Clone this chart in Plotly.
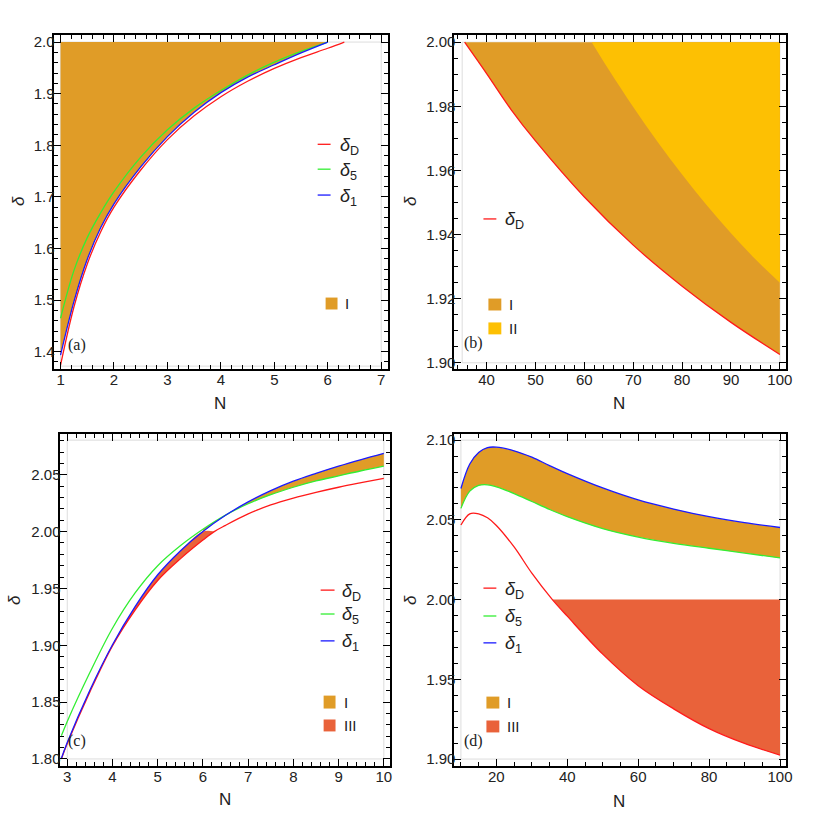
import plotly.graph_objects as go

# ---------------- data ----------------
DELTA_MAX = 2.0

# Panel (a)
a_N = [1, 1.25, 1.5, 1.75, 2, 2.5, 3, 3.5, 4, 4.5, 5, 5.5, 6]
a_blue_d = [1.3934, 1.497, 1.579, 1.640, 1.6865, 1.758, 1.8167, 1.864, 1.902, 1.932, 1.956, 1.979, 2.0]
a_green_d = [1.4648, 1.557, 1.621, 1.669, 1.710, 1.777, 1.830, 1.872, 1.906, 1.936, 1.961, 1.982, 2.0]
a_red_N = [1, 1.25, 1.5, 1.75, 2, 2.5, 3, 3.5, 4, 4.5, 5, 5.5, 6, 6.31]
a_red_d = [1.3739, 1.4865, 1.570, 1.632, 1.680, 1.752, 1.811, 1.857, 1.894, 1.924, 1.949, 1.970, 1.988, 2.0]

# Panel (b)
b_red_N = [35.5, 40, 45, 50, 60, 70, 80, 90, 100]
b_red_d = [2.0, 1.9902, 1.9790, 1.9692, 1.9517, 1.9367, 1.9239, 1.9126, 1.9026]
b_II_N = [61.5, 65, 70, 75, 80, 85, 90, 95, 100]
b_II_d = [2.0, 1.9914, 1.9798, 1.9689, 1.9587, 1.9492, 1.9404, 1.9323, 1.9250]

# Panel (c)
c_N = [2.87, 3, 3.5, 4, 4.5, 5, 5.5, 6, 6.5, 7, 7.5, 8, 8.5, 9, 9.5, 10]
c_blue_d = [1.8005, 1.8145, 1.8605, 1.9005, 1.934, 1.962, 1.983, 2.0, 2.0143, 2.0261, 2.036,
            2.0443, 2.0512, 2.0576, 2.0634, 2.0688]
c_green_d = [1.8204, 1.833, 1.876, 1.915, 1.946, 1.970, 1.9875, 2.002, 2.0145, 2.0245, 2.0325,
             2.039, 2.0445, 2.049, 2.0535, 2.0576]
c_red_N = [2.87, 3, 3.5, 4, 4.5, 5, 5.5, 6, 6.25, 6.5, 7, 7.5, 8, 8.5, 9, 9.5, 10]
c_red_d = [1.800, 1.8135, 1.859, 1.8995, 1.931, 1.957, 1.976, 1.9925, 2.0, 2.0055, 2.0155, 2.0235,
           2.0295, 2.0345, 2.039, 2.043, 2.0468]

# Panel (d)
d_N = [10, 12.5, 15, 17.5, 20, 25, 30, 35, 40, 50, 60, 70, 80, 90, 100]
d_blue_d = [2.0697, 2.0850, 2.0922, 2.0953, 2.0956, 2.0933, 2.0893, 2.0840, 2.0790, 2.0700, 2.0625,
            2.0568, 2.0520, 2.0482, 2.0452]
d_green_d = [2.0572, 2.0680, 2.0716, 2.0720, 2.0707, 2.0665, 2.0615, 2.0565, 2.0520, 2.0445, 2.0392,
             2.0353, 2.0322, 2.0292, 2.0261]
d_red_N = [10, 12.5, 15, 17.5, 20, 25, 30, 35.8, 40, 50, 60, 70, 80, 90, 100]
d_red_d = [2.0468, 2.0538, 2.0538, 2.0513, 2.0465, 2.0330, 2.0166, 2.0, 1.9896, 1.9658, 1.9460,
           1.9315, 1.9191, 1.9098, 1.9025]

panel_labels = ["(a)", "(b)", "(c)", "(d)"]
x_title = "N"
y_title = "<i>δ</i>"
line_names = ["<i>δ</i><sub>D</sub>", "<i>δ</i><sub>5</sub>", "<i>δ</i><sub>1</sub>"]
region_names = ["I", "II", "III"]

# ---------------- styles ----------------
RED, GREEN, BLUE = "#FF1A1A", "#33EE33", "#1A1AFF"
C_I, C_II, C_III = "#E09C27", "#FDC003", "#E9623A"
W = 822
SMOOTH = 1.0

fig = go.Figure()


def ax(i):
    return ("x" if i == 1 else f"x{i}"), ("y" if i == 1 else f"y{i}")


def sub(N, d, lo, hi):
    pts = [(n, v) for n, v in zip(N, d) if lo <= n <= hi]
    return [p[0] for p in pts], [p[1] for p in pts]


def curve(N, d, color, i):
    xa, ya = ax(i)
    fig.add_trace(go.Scatter(x=N, y=d, mode="lines", xaxis=xa, yaxis=ya,
                             line=dict(color=color, width=1.3, shape="spline", smoothing=SMOOTH),
                             hoverinfo="skip", showlegend=False))


def band(Nu, du, Nl, dl, color, i):
    xa, ya = ax(i)
    fig.add_trace(go.Scatter(x=Nu, y=du, mode="lines", xaxis=xa, yaxis=ya,
                             line=dict(width=0, color=color, shape="spline", smoothing=SMOOTH),
                             hoverinfo="skip", showlegend=False))
    fig.add_trace(go.Scatter(x=Nl, y=dl, mode="lines", xaxis=xa, yaxis=ya, fill="tonexty",
                             fillcolor=color,
                             line=dict(width=0, color=color, shape="spline", smoothing=SMOOTH),
                             hoverinfo="skip", showlegend=False))


# ---- panel (a)
band([a_N[0], a_N[-1]], [DELTA_MAX, DELTA_MAX], a_N, a_blue_d, C_I, 1)
curve(a_red_N, a_red_d, RED, 1)
curve(a_N, a_green_d, GREEN, 1)
curve(a_N, a_blue_d, BLUE, 1)

# ---- panel (b)
band([b_red_N[0], b_red_N[-1]], [DELTA_MAX, DELTA_MAX], b_red_N, b_red_d, C_I, 2)
band([b_II_N[0], b_II_N[-1]], [DELTA_MAX, DELTA_MAX], b_II_N, b_II_d, C_II, 2)
curve(b_red_N, b_red_d, RED, 2)

# ---- panel (c)
uN, ud = sub(c_N, c_blue_d, 4.0, 6.0)
rN, rd = sub(c_red_N, c_red_d, 4.0, 6.25)
band(uN + [rN[-1]], ud + [DELTA_MAX], rN, rd, C_III, 3)
uN, ud = sub(c_N, c_blue_d, 6.0, 10)
gN, gd = sub(c_N, c_green_d, 6.0, 10)
band(uN, ud, gN, gd, C_I, 3)
curve(c_red_N, c_red_d, RED, 3)
curve(c_N, c_green_d, GREEN, 3)
curve(c_N, c_blue_d, BLUE, 3)

# ---- panel (d)
band(d_N, d_blue_d, d_N, d_green_d, C_I, 4)
rN, rd = sub(d_red_N, d_red_d, 35.8, 100)
band([rN[0], rN[-1]], [DELTA_MAX, DELTA_MAX], rN, rd, C_III, 4)
curve(d_red_N, d_red_d, RED, 4)
curve(d_N, d_green_d, GREEN, 4)
curve(d_N, d_blue_d, BLUE, 4)

# ---------------- axes ----------------
TF = dict(family="Liberation Sans", size=15, color="#222")


def axis(domain, rng, dtick, mdtick, anchor, fmt=None, standoff=-4):
    d = dict(domain=domain, range=rng, dtick=dtick, tick0=0, anchor=anchor,
             showline=True, linecolor="black", linewidth=2, mirror="allticks",
             ticks="inside", ticklen=7, tickwidth=1, tickcolor="black",
             minor=dict(dtick=mdtick, tick0=0, ticks="inside", ticklen=4, tickwidth=1, tickcolor="black"),
             showgrid=False, zeroline=False, tickfont=TF, ticklabelstandoff=standoff)
    if fmt:
        d["tickformat"] = fmt
    return d


def px(x):
    return x / W


def py(y):
    return 1 - y / W


top_dom = [py(369), py(33)]
bot_dom = [py(767.5), py(433.7)]

fig.update_layout(
    xaxis=axis([px(54), px(391)], [0.87, 7.13], 1, 0.2, "y"),
    yaxis=axis(top_dom, [1.366, 2.014], 0.1, 0.02, "x", ".1f", -6),
    xaxis2=axis([px(457.7), px(792)], [33.4, 101.3], 10, 2, "y2"),
    yaxis2=axis(top_dom, [1.898, 2.0023], 0.02, 0.005, "x2", ".2f", -6),
    xaxis3=axis([px(60), px(393.3)], [2.83, 10.146], 1, 0.2, "y3"),
    yaxis3=axis(bot_dom, [1.794, 2.0862], 0.05, 0.01, "x3", ".2f", -6),
    xaxis4=axis([px(457.7), px(792)], [8.15, 101.75], 20, 5, "y4"),
    yaxis4=axis(bot_dom, [1.8958, 2.1041], 0.05, 0.01, "x4", ".2f", -6),
)

shapes = []
annotations = []


def text(t, x, y, size, family="Liberation Sans", xanchor="center", angle=0):
    annotations.append(dict(text=t, x=px(x), y=py(y), xref="paper", yref="paper",
                            xanchor=xanchor, yanchor="middle", showarrow=False, textangle=angle,
                            font=dict(family=family, size=size, color="#222")))


# inner light-gray plot-range boxes
for i, (x0, x1, y0, y1) in enumerate([(1, 7, 1.372, 2.0), (35, 100, 1.90, 2.0),
                                      (3, 10, 1.80, 2.0804), (10, 100, 1.90, 2.10)], start=1):
    xa, ya = ax(i)
    shapes.append(dict(type="rect", xref=xa, yref=ya, x0=x0, x1=x1, y0=y0, y1=y1,
                       line=dict(color="#DDDDDD", width=1), layer="below"))

# axis titles
for (xx, yy) in [(222, 403), (624, 403), (227, 801), (624, 803)]:
    text(x_title, xx, yy, 17)
for (xx, yy) in [(18, 200), (413, 200), (14, 601), (413, 601)]:
    text(y_title, xx, yy, 17, angle=-90)

# panel labels
for lab, (xx, yy) in zip(panel_labels, [(78, 345), (477, 343), (78, 743), (477, 743)]):
    text(lab, xx, yy, 16, family="Liberation Serif")


def leg_line(x0, x1, y, color, t, tx):
    shapes.append(dict(type="line", xref="paper", yref="paper", x0=px(x0), x1=px(x1),
                       y0=py(y), y1=py(y), line=dict(color=color, width=1.3)))
    text(t, tx, y + 2, 18, xanchor="left")


def leg_box(x0, x1, y0, y1, color, t, tx):
    shapes.append(dict(type="rect", xref="paper", yref="paper", x0=px(x0), x1=px(x1),
                       y0=py(y1), y1=py(y0), fillcolor=color, line=dict(width=0)))
    text(t, tx, (y0 + y1) / 2, 15, xanchor="left")


cols = [RED, GREEN, BLUE]
# (a)
for y, c, t in zip([143, 168, 194], cols, line_names):
    leg_line(320, 333, y, c, t, 340)
leg_box(328, 340, 297, 309, C_I, region_names[0], 346)
# (b)
leg_line(487, 500, 218, RED, line_names[0], 507)
leg_box(492, 505, 298, 310, C_I, region_names[0], 511)
leg_box(492, 505, 322, 334, C_II, region_names[1], 511)
# (c)
for y, c, t in zip([591, 615, 642], cols, line_names):
    leg_line(323, 337, y, c, t, 343)
leg_box(326, 338, 697, 710, C_I, region_names[0], 345)
leg_box(326, 338, 721, 733, C_III, region_names[2], 345)
# (d)
for y, c, t in zip([589, 617, 644], cols, line_names):
    leg_line(487, 500, y, c, t, 507)
leg_box(490, 503, 698, 710, C_I, region_names[0], 509)
leg_box(490, 503, 722, 734, C_III, region_names[2], 509)

fig.update_layout(shapes=shapes, annotations=annotations, width=W, height=W,
                  margin=dict(l=0, r=0, t=0, b=0), paper_bgcolor="white", plot_bgcolor="white",
                  showlegend=False)

fig.write_html("out.html", config={"displayModeBar": False},
               post_script="document.body.style.margin='0px';"
                           "document.documentElement.style.overflow='hidden';")
